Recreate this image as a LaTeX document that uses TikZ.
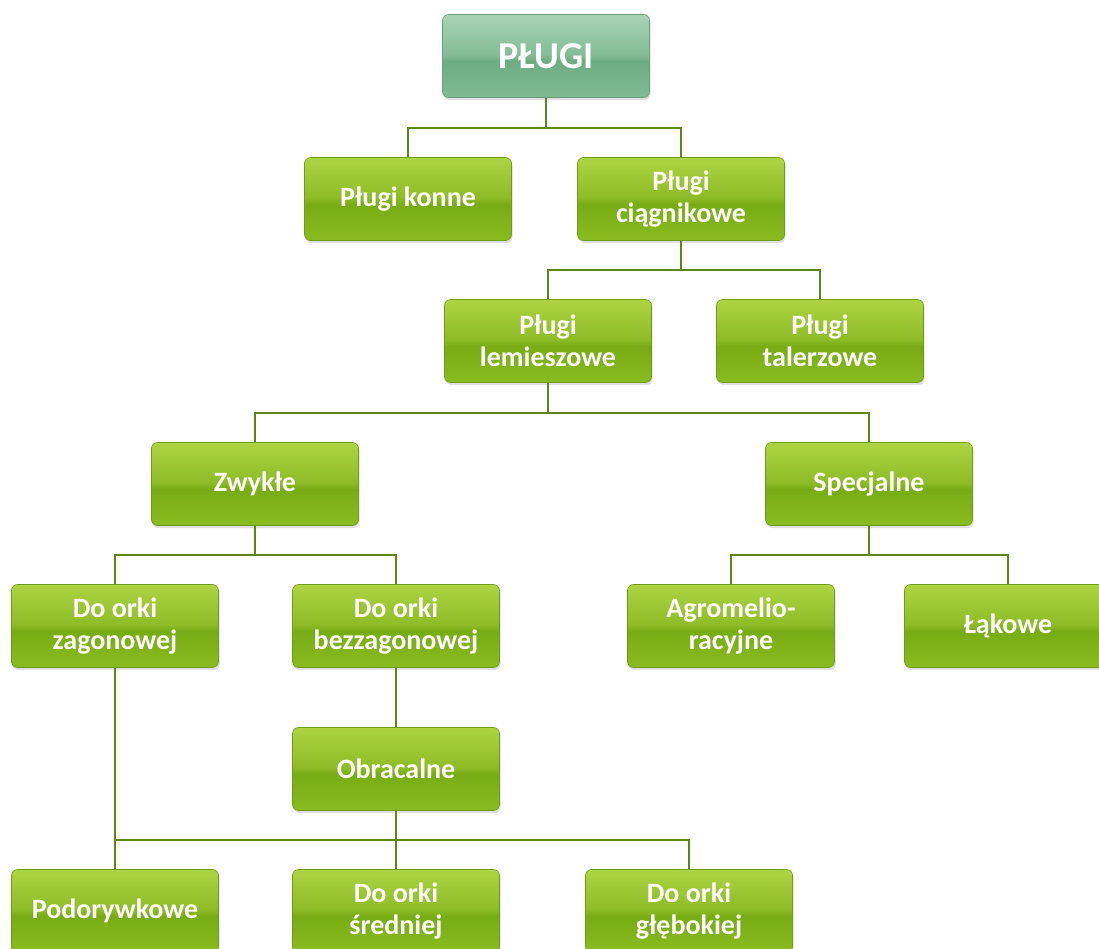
\documentclass[tikz,border=0pt]{standalone}
\usepackage{fontspec}
\setmainfont{Carlito}
\usetikzlibrary{shadows}
\definecolor{gtop}{HTML}{AED443}
\definecolor{gmid}{HTML}{78AC14}
\definecolor{gbot}{HTML}{8ABC20}
\definecolor{ttop}{HTML}{A8D4B6}
\definecolor{tmid}{HTML}{6DAD83}
\definecolor{tbot}{HTML}{80BA94}
\definecolor{linkgreen}{HTML}{5F8418}
\definecolor{edgegreen}{HTML}{6E9C16}
\definecolor{edgeteal}{HTML}{6A9E7C}
\pgfdeclareverticalshading{glossgreen}{100bp}{color(0bp)=(gbot); color(25bp)=(gbot); color(47bp)=(gmid); color(51bp)=(gmid!60!gtop); color(75bp)=(gtop); color(100bp)=(gtop)}
\pgfdeclareverticalshading{glossteal}{100bp}{color(0bp)=(tbot); color(25bp)=(tbot); color(47bp)=(tmid); color(51bp)=(tmid!60!ttop); color(75bp)=(ttop); color(100bp)=(ttop)}

\begin{document}
\begin{tikzpicture}[x=1pt, y=-1pt,
  box/.style={rectangle, rounded corners=6pt, minimum width=207pt, minimum height=83pt,
    shading=glossgreen, draw=edgegreen, line width=0.6pt, align=center, text=white,
    font=\fontsize{28}{32}\selectfont\bfseries,
    drop shadow={opacity=0.25, shadow xshift=1pt, shadow yshift=-2.5pt}},
  topbox/.style={box, shading=glossteal, draw=edgeteal, font=\fontsize{38}{42}\selectfont\bfseries},
  link/.style={draw=linkgreen, line width=2.5pt}]
  \useasboundingbox (0,0) rectangle (1099,948);
  \clip (0,0) rectangle (1099,948);
  % Level 0 and 1
  \node[topbox] (plugi) at (546,56) {PŁUGI};
  \node[box] (konne) at (408,199) {Pługi konne};
  \node[box] (ciagnikowe) at (681,199) {Pługi\\ciągnikowe};
  % Level 2
  \node[box] (lemieszowe) at (548,341) {Pługi\\lemieszowe};
  \node[box] (talerzowe) at (820,341) {Pługi\\talerzowe};
  % Level 3
  \node[box] (zwykle) at (255,484) {Zwykłe};
  \node[box] (specjalne) at (869,484) {Specjalne};
  % Level 4
  \node[box] (zagonowa) at (115,626) {Do orki\\zagonowej};
  \node[box] (bezzagonowa) at (396,626) {Do orki\\bezzagonowej};
  \node[box] (agro) at (731,626) {Agromelio-\\racyjne};
  \node[box] (lakowe) at (1008,626) {Łąkowe};
  \node[box] (obracalne) at (396,769) {Obracalne};
  % Bottom row
  \node[box] (podorywkowe) at (115,911) {Podorywkowe};
  \node[box] (srednia) at (396,911) {Do orki\\średniej};
  \node[box] (gleboka) at (689,911) {Do orki\\głębokiej};
  % Connectors
  \draw[link] (plugi.south) -- ++(0,30) -| (konne.north);
  \draw[link] (plugi.south) -- ++(0,30) -| (ciagnikowe.north);
  \draw[link] (ciagnikowe.south) -- ++(0,29) -| (lemieszowe.north);
  \draw[link] (ciagnikowe.south) -- ++(0,29) -| (talerzowe.north);
  \draw[link] (lemieszowe.south) -- ++(0,30) -| (zwykle.north);
  \draw[link] (lemieszowe.south) -- ++(0,30) -| (specjalne.north);
  \draw[link] (zwykle.south) -- ++(0,29) -| (zagonowa.north);
  \draw[link] (zwykle.south) -- ++(0,29) -| (bezzagonowa.north);
  \draw[link] (specjalne.south) -- ++(0,29) -| (agro.north);
  \draw[link] (specjalne.south) -- ++(0,29) -| (lakowe.north);
  \draw[link] (bezzagonowa.south) -- (obracalne.north);
  \draw[link] (zagonowa.south) -- (podorywkowe.north);
  \draw[link] (obracalne.south) -- ++(0,29) -| (podorywkowe.north);
  \draw[link] (obracalne.south) -- (srednia.north);
  \draw[link] (obracalne.south) -- ++(0,29) -| (gleboka.north);
\end{tikzpicture}
\end{document}
